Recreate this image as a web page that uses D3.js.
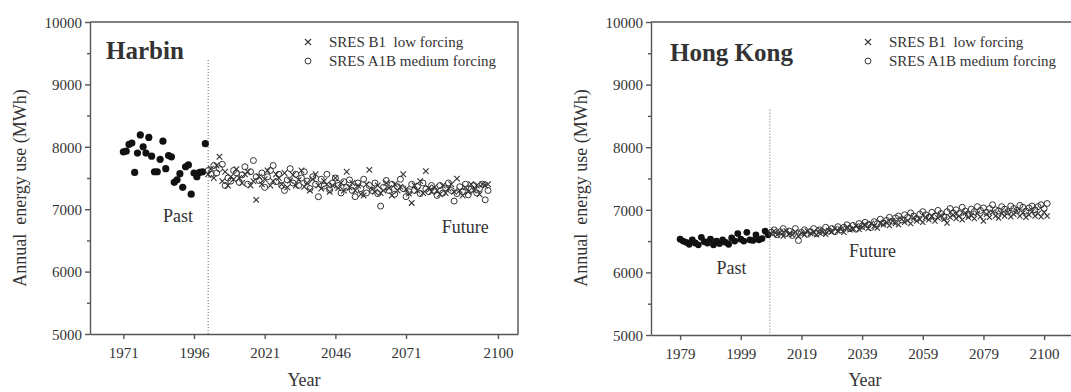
<!DOCTYPE html>
<html>
<head>
<meta charset="utf-8">
<script src="https://cdn.jsdelivr.net/npm/d3@7"></script>
<style>
  body { margin: 0; background: #fff; }
  text { font-family: "Liberation Serif", "Times New Roman", serif; fill: #333; }
</style>
</head>
<body>
<script>
'use strict';

// ---- Harbin ----
const harbinPastStart = 1971;
const harbinPast = [7920, 7930, 8040, 8060, 7590, 7900, 8190, 8000, 7900, 8150,
  7850, 7600, 7600, 7800, 8090, 7650, 7860, 7840, 7430, 7470,
  7570, 7350, 7680, 7710, 7240, 7580, 7520, 7590, 7600, 8050];
const harbinFutureStart = 2001;
const harbinA1B = [7620, 7560, 7700, 7580, 7650, 7720, 7380, 7500, 7450, 7620,
  7580, 7430, 7550, 7680, 7400, 7600, 7780, 7520, 7460, 7580,
  7350, 7520, 7620, 7700, 7440, 7560, 7380, 7300, 7470, 7650,
  7420, 7560, 7380, 7500, 7600, 7450, 7330, 7520, 7400, 7200,
  7480, 7370, 7560, 7310, 7420, 7500, 7380, 7260, 7440, 7350,
  7470, 7300, 7200, 7420, 7330, 7480, 7260, 7380, 7300, 7420,
  7250, 7050, 7350, 7460, 7300, 7400, 7240, 7360, 7480, 7330,
  7200, 7280, 7400, 7300, 7360, 7250, 7420, 7320, 7280, 7380,
  7300, 7220, 7380, 7260, 7340, 7420, 7300, 7130, 7250, 7360,
  7280, 7400, 7230, 7320, 7380, 7260, 7330, 7400, 7150, 7300];
const harbinB1 = [7560, 7650, 7500, 7700, 7840, 7450, 7600, 7380, 7520, 7480,
  7640, 7500, 7420, 7560, 7600, 7380, 7450, 7150, 7520, 7400,
  7480, 7620, 7380, 7450, 7560, 7500, 7400, 7580, 7350, 7460,
  7550, 7380, 7470, 7620, 7360, 7420, 7300, 7480, 7560, 7380,
  7330, 7450, 7400, 7280, 7380, 7500, 7340, 7420, 7300, 7600,
  7350, 7420, 7300, 7380, 7240, 7220, 7400, 7630, 7320, 7280,
  7380, 7260, 7300, 7420, 7340, 7220, 7400, 7300, 7360, 7560,
  7320, 7250, 7100, 7380, 7300, 7450, 7260, 7610, 7340, 7280,
  7350, 7300, 7240, 7380, 7260, 7330, 7400, 7280, 7490, 7300,
  7220, 7350, 7280, 7400, 7300, 7380, 7240, 7400, 7380, 7400];
const harbinTicks = [1971, 1996, 2021, 2046, 2071, 2103.5];
const harbinTickLabels = ["1971", "1996", "2021", "2046", "2071", "2100"];

// ---- Hong Kong ----
const hkPastStart = 1979;
const hkPast = [6530, 6500, 6480, 6450, 6520, 6470, 6440, 6560, 6490, 6470,
  6530, 6440, 6500, 6460, 6520, 6480, 6450, 6550, 6500, 6620,
  6530, 6500, 6640, 6520, 6510, 6600, 6520, 6540, 6660, 6600];
const hkFutureStart = 2009;
const hkA1B = [6640, 6680, 6600, 6650, 6700, 6620, 6660, 6590, 6700, 6510,
  6640, 6680, 6610, 6650, 6700, 6620, 6680, 6640, 6720, 6660,
  6700, 6650, 6730, 6680, 6720, 6760, 6700, 6750, 6690, 6780,
  6740, 6800, 6760, 6720, 6810, 6780, 6850, 6790, 6830, 6880,
  6820, 6870, 6900, 6840, 6920, 6880, 6950, 6900, 6860, 6930,
  6970, 6920, 6880, 6960, 6900, 6990, 6940, 6880, 6970, 7020,
  6950, 7000, 6940, 7040, 6980, 6920, 7010, 6970, 7050, 6990,
  7030, 6960, 7020, 7080, 7000, 6980, 7050, 7010, 6970, 7060,
  7020, 6990, 7070, 7040, 6980, 7030, 7060, 7000, 7050, 7080,
  7020, 7100];
const hkB1 = [6620, 6660, 6600, 6640, 6580, 6660, 6620, 6600, 6650, 6580,
  6630, 6600, 6660, 6620, 6650, 6600, 6680, 6640, 6610, 6670,
  6650, 6700, 6660, 6690, 6640, 6720, 6680, 6700, 6740, 6690,
  6720, 6760, 6700, 6780, 6740, 6710, 6790, 6760, 6800, 6750,
  6820, 6780, 6760, 6850, 6800, 6830, 6780, 6870, 6820, 6850,
  6800, 6880, 6840, 6900, 6820, 6870, 6910, 6850, 6790, 6880,
  6920, 6860, 6900, 6840, 6950, 6880, 6910, 6860, 6940, 6890,
  6820, 6930, 6880, 6960, 6900, 6870, 6940, 6900, 6960, 6890,
  6930, 6980, 6900, 6950, 6880, 6920, 6970, 6900, 6940, 6890,
  6960, 6900];
const hkTicks = [1979, 1999, 2019, 2039, 2059, 2079, 2099];
const hkTickLabels = ["1979", "1999", "2019", "2039", "2059", "2079", "2100"];

const yTicks = [5000, 6000, 7000, 8000, 9000, 10000];
const yMinorTicks = [5500, 6500, 7500, 8500, 9500];
const legendLabels = ["SRES B1  low forcing", "SRES A1B medium forcing"];

const svg = d3.select('body').append('svg')
  .attr('width', 1071)
  .attr('height', 392);

// turn a start year + value list into rows
function toRows(start, values) {
  return values.map((v, i) => ({ year: start + i, value: v }));
}

function drawPanel(p) {
  let g = svg.append('g');

  let xScale = d3.scaleLinear().domain(p.xDomain).range([p.left, p.right]);
  let yScale = d3.scaleLinear().domain([5000, 10000]).range([p.bottom, p.top]);

  // frame (top and right)
  g.append('path')
    .attr('d', `M${p.left},${p.top}H${p.right}V${p.bottom}`)
    .attr('fill', 'none')
    .attr('stroke', '#555')
    .attr('stroke-width', 1.4);

  // x axis
  let xAxis = d3.axisBottom(xScale)
    .tickValues(p.ticks)
    .tickFormat((d, i) => p.tickLabels[i])
    .tickSize(5)
    .tickSizeOuter(0)
    .tickPadding(8);
  let gx = g.append('g')
    .attr('transform', `translate(0, ${p.bottom})`)
    .call(xAxis);

  // y axis, minor ticks first
  g.append('g')
    .attr('transform', `translate(${p.left}, 0)`)
    .call(d3.axisLeft(yScale).tickValues(yMinorTicks).tickSize(3).tickFormat(''))
    .select('.domain').remove();
  let gy = g.append('g')
    .attr('transform', `translate(${p.left}, 0)`)
    .call(d3.axisLeft(yScale).tickValues(yTicks).tickSize(5).tickSizeOuter(0).tickPadding(3).tickFormat(d3.format('d')));

  g.selectAll('.domain, .tick line').attr('stroke', '#555').attr('stroke-width', 1.4);
  g.selectAll('.tick text')
    .style('font-family', '"Liberation Serif", serif')
    .style('font-size', '15px')
    .attr('fill', '#333');
  gy.selectAll('.tick text').attr('dy', '0.35em');

  // divider between past and future
  g.append('line')
    .attr('x1', xScale(p.divider)).attr('x2', xScale(p.divider))
    .attr('y1', yScale(p.dividerTop)).attr('y2', p.bottom)
    .attr('stroke', '#666')
    .attr('stroke-width', 1)
    .attr('stroke-dasharray', '1,2');

  // past: filled dots
  g.selectAll('.past')
    .data(toRows(p.pastStart, p.past))
    .enter()
    .append('circle')
    .attr('cx', d => xScale(d.year))
    .attr('cy', d => yScale(d.value))
    .attr('r', p.dotR)
    .attr('fill', '#111');

  // A1B: open circles
  g.selectAll('.a1b')
    .data(toRows(p.futureStart, p.a1b))
    .enter()
    .append('circle')
    .attr('cx', d => xScale(d.year))
    .attr('cy', d => yScale(d.value))
    .attr('r', p.ringR)
    .attr('fill', 'none')
    .attr('stroke', '#333')
    .attr('stroke-width', 1);

  // B1: crosses
  let s = p.crossS;
  g.selectAll('.b1')
    .data(toRows(p.futureStart, p.b1))
    .enter()
    .append('path')
    .attr('transform', d => `translate(${xScale(d.year)},${yScale(d.value)})`)
    .attr('d', `M${-s},${-s}L${s},${s}M${-s},${s}L${s},${-s}`)
    .attr('stroke', '#333')
    .attr('stroke-width', 1.1);

  // title
  g.append('text')
    .attr('x', p.titleX).attr('y', p.titleY)
    .style('font-size', '25px')
    .style('font-weight', 'bold')
    .attr('fill', '#222')
    .text(p.title);

  // legend
  g.append('path')
    .attr('transform', `translate(${p.legendX}, 42)`)
    .attr('d', 'M-3,-3L3,3M-3,3L3,-3')
    .attr('stroke', '#333').attr('stroke-width', 1.1);
  g.append('circle')
    .attr('cx', p.legendX).attr('cy', 61).attr('r', 3)
    .attr('fill', 'none').attr('stroke', '#333').attr('stroke-width', 1);
  legendLabels.forEach((t, i) => {
    g.append('text')
      .attr('x', p.legendX + 21).attr('y', 47 + i * 19)
      .style('font-size', '15px')
      .style('white-space', 'pre')
      .text(t);
  });

  // Past / Future labels
  g.append('text')
    .attr('x', xScale(p.pastLabel[0])).attr('y', yScale(p.pastLabel[1]))
    .style('font-size', '18px').text('Past');
  g.append('text')
    .attr('x', xScale(p.futureLabel[0])).attr('y', yScale(p.futureLabel[1]))
    .style('font-size', '18px').text('Future');

  // axis titles
  g.append('text')
    .attr('x', (p.left + p.right) / 2).attr('y', 386)
    .attr('text-anchor', 'middle')
    .style('font-size', '18px')
    .text('Year');
  g.append('text')
    .attr('transform', `translate(${p.left - 64}, 188)rotate(-90)`)
    .attr('text-anchor', 'middle')
    .style('font-size', '18px')
    .style('white-space', 'pre')
    .text('Annual  energy use (MWh)');
}

drawPanel({
  title: 'Harbin', titleX: 106, titleY: 59,
  left: 90, right: 518, top: 22, bottom: 334,
  xDomain: [1959.2, 2110.6],
  ticks: harbinTicks, tickLabels: harbinTickLabels,
  pastStart: harbinPastStart, past: harbinPast,
  futureStart: harbinFutureStart, a1b: harbinA1B, b1: harbinB1,
  divider: 2001, dividerTop: 9390,
  dotR: 3.6, ringR: 3, crossS: 2.8,
  legendX: 308,
  pastLabel: [1985, 6790], futureLabel: [2083.6, 6615]
});

drawPanel({
  title: 'Hong Kong', titleX: 670, titleY: 61,
  left: 651, right: 1079, top: 22, bottom: 335,
  xDomain: [1969.4, 2110.5],
  ticks: hkTicks, tickLabels: hkTickLabels,
  pastStart: hkPastStart, past: hkPast,
  futureStart: hkFutureStart, a1b: hkA1B, b1: hkB1,
  divider: 2008.6, dividerTop: 8600,
  dotR: 3.4, ringR: 3, crossS: 2.6,
  legendX: 868,
  pastLabel: [1991, 5975], futureLabel: [2034.7, 6246]
});
</script>
</body>
</html>
